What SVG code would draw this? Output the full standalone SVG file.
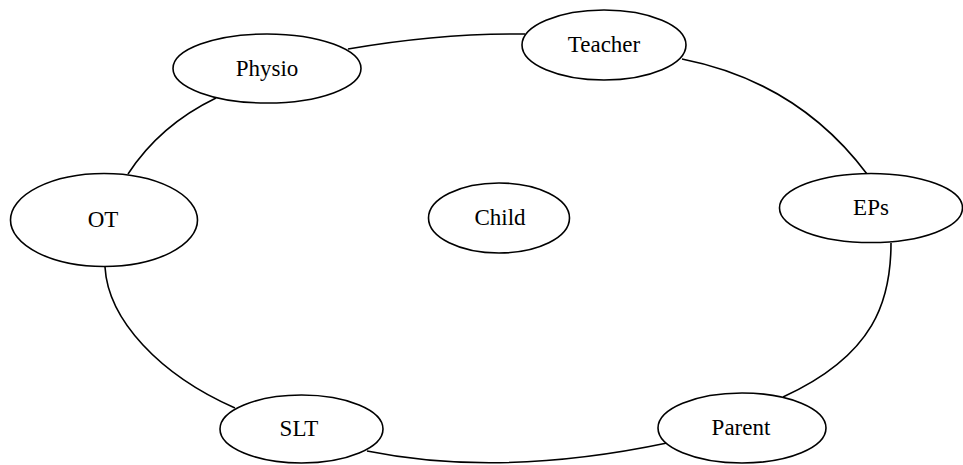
<svg xmlns="http://www.w3.org/2000/svg" width="963" height="465" viewBox="0 0 963 465">
<style>
.node ellipse{fill:#fff;stroke:#000;stroke-width:1.6}
.node text{font-family:"Liberation Serif","Times New Roman",serif;font-size:23px;fill:#000;text-anchor:middle}
.edges path{fill:none;stroke:#000;stroke-width:1.6}
</style>
<rect width="963" height="465" fill="#fff"/>
<g class="edges" id="connectors">
<path d="M348,49 Q440,33 525,34"/>
<path d="M682,59 Q798,82 867,174"/>
<path d="M891,243 C891,300 875,355 783,397"/>
<path d="M667,443 Q500,478 367,451"/>
<path d="M235,408 C160,375 108,320 105,267"/>
<path d="M128,174 Q160,125 216,98"/>
</g>
<g class="node" id="physio"><ellipse cx="267" cy="68.5" rx="94" ry="34.5"/><text x="267" y="76">Physio</text></g>
<g class="node" id="teacher"><ellipse cx="604" cy="45" rx="82" ry="35"/><text x="604" y="52">Teacher</text></g>
<g class="node" id="ot"><ellipse cx="104" cy="220" rx="93.5" ry="46.5"/><text x="103" y="227">OT</text></g>
<g class="node" id="child"><ellipse cx="499" cy="218" rx="70.5" ry="35"/><text x="500" y="225">Child</text></g>
<g class="node" id="eps"><ellipse cx="871" cy="208" rx="91.5" ry="34.5"/><text x="871" y="215">EPs</text></g>
<g class="node" id="slt"><ellipse cx="301.5" cy="429" rx="81.5" ry="34"/><text x="299" y="436">SLT</text></g>
<g class="node" id="parent"><ellipse cx="742" cy="428" rx="84" ry="35"/><text x="741" y="435">Parent</text></g>
</svg>
